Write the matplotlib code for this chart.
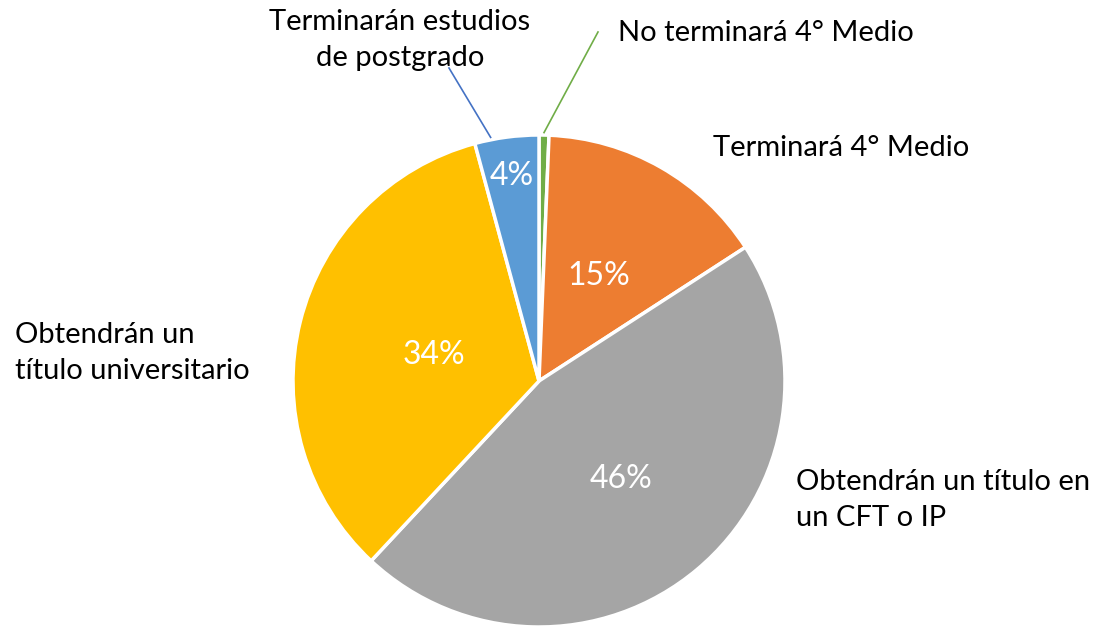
import numpy as np
from matplotlib import pyplot as plt

labels = ['No terminará 4° Medio', 'Terminará 4° Medio',
          'Obtendrán un título en\nun CFT o IP',
          'Obtendrán un\ntítulo universitario',
          'Terminarán estudios\nde postgrado']
values = [0.65, 15.2, 46.1, 33.85, 4.2]
colors = ['#70AD47', '#ED7D31', '#A5A5A5', '#FFC000', '#5B9BD5']
pct_dist = [0, 0.49, 0.52, 0.44, 0.84]

plt.rcParams['font.family'] = ['Lato', 'DejaVu Sans']

W, H = 1095, 627
cx, cy, R = 539, 381, 246   # pie centre / radius in pixels
fg = plt.figure(figsize=(W/100, H/100), dpi=100)
ax = fg.add_axes([(cx-R)/W, 1-(cy+R)/H, 2*R/W, 2*R/H])
wedges, _ = ax.pie(values, colors=colors, startangle=90, counterclock=False,
                   radius=1, wedgeprops=dict(edgecolor='white', linewidth=2.5))
ax.set_xlim(-1, 1)
ax.set_ylim(-1, 1)
ax.set_aspect('equal')
ax.axis('off')

# percent labels inside slices
for w, v, d in zip(wedges, values, pct_dist):
    if d == 0:
        continue
    ang = np.deg2rad((w.theta1 + w.theta2) / 2)
    ax.text(d*np.cos(ang), d*np.sin(ang), '%d%%' % round(v), color='white',
            fontsize=23, ha='center', va='center')

# outer labels (pixel positions from top-left)
lab_pos = [(618, 33, 'left'), (713, 148, 'left'), (796, 500, 'left'),
           (15, 353, 'left'), (400, 40, 'center')]
for lab, (x, y, ha) in zip(labels, lab_pos):
    fg.text(x/W, 1 - y/H, lab, fontsize=21, ha=ha, va='center',
            linespacing=1.45, color='black')

# leader lines for the small slices
leaders = {0: (598, 32, '#70AD47', 0.5), 4: (449, 68, '#4472C4', 0.75)}
for i, (x, y, c, f) in leaders.items():
    w = wedges[i]
    ang = np.deg2rad(w.theta1 + f*(w.theta2 - w.theta1))
    x0, y0 = np.cos(ang), 1.01*np.sin(ang)
    ax.plot([x0, (x-cx)/R], [y0, (cy-y)/R], color=c, lw=1.2,
            clip_on=False)

fg.savefig('out.png', dpi=100)
